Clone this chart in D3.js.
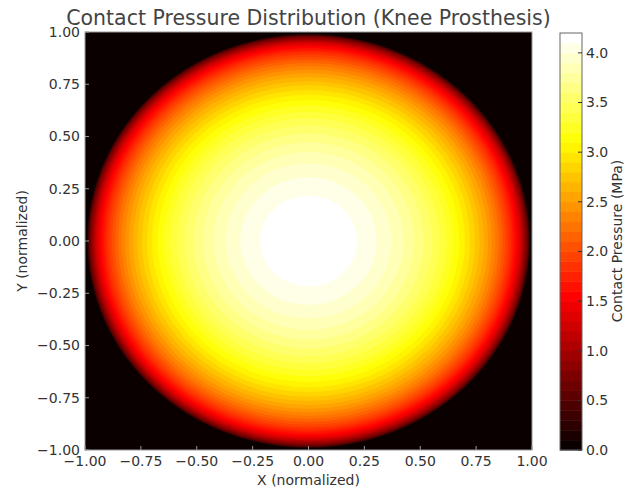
<!DOCTYPE html>
<html>
<head>
<meta charset="utf-8">
<script src="https://cdn.jsdelivr.net/npm/d3@7"></script>
<style>
  body { margin: 0; background: #fff; }
  text { font-family: "DejaVu Sans", sans-serif; fill: #333; }
</style>
</head>
<body>
<div id="chart"></div>
<script>
// contour levels (MPa)
var levels = [0.0, 0.1, 0.2, 0.3, 0.4, 0.5, 0.6, 0.7, 0.8, 0.9,
  1.0, 1.1, 1.2, 1.3, 1.4, 1.5, 1.6, 1.7, 1.8, 1.9,
  2.0, 2.1, 2.2, 2.3, 2.4, 2.5, 2.6, 2.7, 2.8, 2.9,
  3.0, 3.1, 3.2, 3.3, 3.4, 3.5, 3.6, 3.7, 3.8, 3.9,
  4.0, 4.1, 4.2]

// normalized radius of the region where pressure >= levels[1..41]
var radii = [0.990, 0.989, 0.987, 0.985, 0.983, 0.980, 0.976, 0.972, 0.967, 0.962,
  0.958, 0.953, 0.947, 0.940, 0.933, 0.924, 0.914, 0.904, 0.892, 0.879,
  0.866, 0.852, 0.837, 0.821, 0.804, 0.785, 0.766, 0.745, 0.723, 0.700,
  0.675, 0.648, 0.619, 0.587, 0.553, 0.515, 0.473, 0.426, 0.371, 0.305,
  0.217]

var axisTicks = [-1.00, -0.75, -0.50, -0.25, 0.00, 0.25, 0.50, 0.75, 1.00]
var cbarTicks = [0.0, 0.5, 1.0, 1.5, 2.0, 2.5, 3.0, 3.5, 4.0]

var W = 626, H = 489
var svg = d3.select('#chart').append('svg').attr('width', W).attr('height', H)

var x = d3.scaleLinear().domain([-1, 1]).range([85, 532])
var y = d3.scaleLinear().domain([-1, 1]).range([450, 32])

// matplotlib 'hot'
var hot = d3.scaleLinear()
  .domain([0, 0.365079, 0.746032, 1])
  .range(['#0b0000', '#ff0000', '#ffff00', '#ffffff'])
  .interpolate(d3.interpolateRgb)

var nBands = levels.length - 1
function bandColor(i){ return hot(i / (nBands - 1)) }

svg.append('clipPath').attr('id', 'plot-clip')
  .append('rect')
  .attr('x', x(-1)).attr('y', y(1))
  .attr('width', x(1) - x(-1)).attr('height', y(-1) - y(1))

var plot = svg.append('g').attr('clip-path', 'url(#plot-clip)')

plot.append('rect')
  .attr('x', x(-1)).attr('y', y(1))
  .attr('width', x(1) - x(-1)).attr('height', y(-1) - y(1))
  .attr('fill', bandColor(0))

plot.selectAll('ellipse.band')
  .data(radii)
  .join('ellipse')
  .attr('class', 'band')
  .attr('cx', x(0)).attr('cy', y(0))
  .attr('rx', d => x(d) - x(0))
  .attr('ry', d => y(0) - y(d))
  .attr('fill', (d, i) => bandColor(i + 1))

// frame
svg.append('rect')
  .attr('x', x(-1)).attr('y', y(1))
  .attr('width', x(1) - x(-1)).attr('height', y(-1) - y(1))
  .attr('fill', 'none').attr('stroke', '#999').attr('stroke-width', 1)

var fmt2 = d => d3.format('.2f')(d).replace('-', '\u2212')

// x ticks (inward)
var xt = svg.append('g')
xt.selectAll('line').data(axisTicks).join('line')
  .attr('x1', d => x(d)).attr('x2', d => x(d))
  .attr('y1', y(-1)).attr('y2', y(-1) - 4)
  .attr('stroke', '#999')
xt.selectAll('text').data(axisTicks).join('text')
  .attr('x', d => x(d)).attr('y', y(-1) + 16)
  .attr('text-anchor', 'middle')
  .style('font-size', '14px')
  .text(fmt2)

// y ticks (inward)
var yt = svg.append('g')
yt.selectAll('line').data(axisTicks).join('line')
  .attr('x1', x(-1)).attr('x2', x(-1) + 4)
  .attr('y1', d => y(d)).attr('y2', d => y(d))
  .attr('stroke', '#999')
yt.selectAll('text').data(axisTicks).join('text')
  .attr('x', x(-1) - 5).attr('y', d => y(d))
  .attr('text-anchor', 'end').attr('dy', '0.35em')
  .style('font-size', '14px')
  .text(fmt2)

svg.append('text')
  .attr('x', (x(-1) + x(1)) / 2).attr('y', 485)
  .attr('text-anchor', 'middle')
  .style('font-size', '14px')
  .text('X (normalized)')

svg.append('text')
  .attr('transform', 'translate(27,' + y(0) + ') rotate(-90)')
  .attr('text-anchor', 'middle')
  .style('font-size', '14px')
  .text('Y (normalized)')

svg.append('text')
  .attr('x', (x(-1) + x(1)) / 2).attr('y', 25)
  .attr('text-anchor', 'middle')
  .style('font-size', '20.5px')
  .style('fill', '#444')
  .text('Contact Pressure Distribution (Knee Prosthesis)')

// colorbar
var cbX = 560, cbW = 22
var cy = d3.scaleLinear().domain([0, 4.2]).range([450, 33])
var cb = svg.append('g')
cb.selectAll('rect.lvl')
  .data(d3.pairs(levels))
  .join('rect')
  .attr('class', 'lvl')
  .attr('x', cbX).attr('width', cbW)
  .attr('y', d => cy(d[1]))
  .attr('height', d => cy(d[0]) - cy(d[1]) + 0.5)
  .attr('fill', (d, i) => bandColor(i))

cb.append('rect')
  .attr('x', cbX).attr('y', cy(4.2))
  .attr('width', cbW).attr('height', cy(0) - cy(4.2))
  .attr('fill', 'none').attr('stroke', '#666').attr('stroke-width', 1)

cb.selectAll('line.tk').data(cbarTicks).join('line')
  .attr('class', 'tk')
  .attr('x1', cbX + cbW - 4).attr('x2', cbX + cbW)
  .attr('y1', d => cy(d)).attr('y2', d => cy(d))
  .attr('stroke', '#333')

cb.selectAll('text').data(cbarTicks).join('text')
  .attr('x', cbX + cbW + 4).attr('y', d => cy(d))
  .attr('dy', '0.35em')
  .style('font-size', '14px')
  .text(d => d3.format('.1f')(d))

svg.append('text')
  .attr('transform', 'translate(622,' + y(0) + ') rotate(-90)')
  .attr('text-anchor', 'middle')
  .style('font-size', '14px')
  .text('Contact Pressure (MPa)')
</script>
</body>
</html>
